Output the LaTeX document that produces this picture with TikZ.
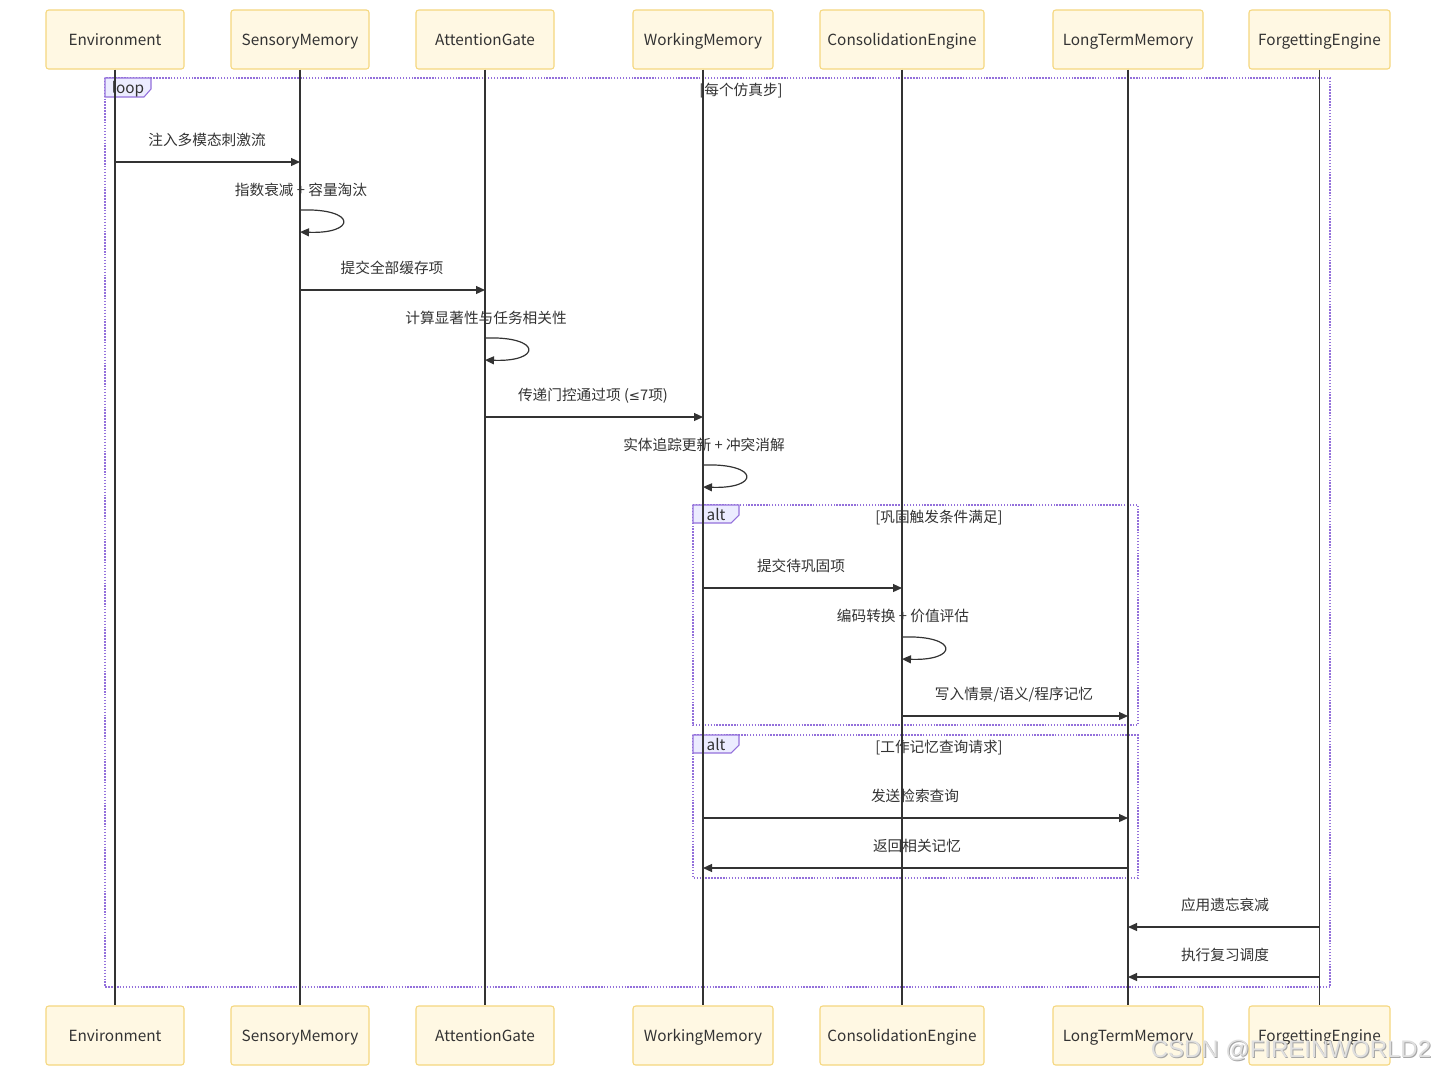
\documentclass[tikz,border=0pt]{standalone}
\usepackage{fontspec}
\setmainfont{Noto Sans CJK SC}
\newfontfamily\wmfont{Liberation Sans}
\newfontfamily\symfont{DejaVu Sans}
\usetikzlibrary{arrows.meta}
\definecolor{boxfill}{HTML}{FFF8E3}
\definecolor{boxline}{HTML}{F5D77E}
\definecolor{frameline}{HTML}{9370DB}
\definecolor{tabfill}{HTML}{ECECFF}
\definecolor{ink}{HTML}{333333}
\begin{document}
\begin{tikzpicture}[x=0.75pt,y=-0.75pt,
  actor/.style={draw=boxline, fill=boxfill, rounded corners=2pt, line width=0.8pt,
    minimum height=44.25pt, inner sep=0pt, text height=10.8pt, text depth=2.4pt,
    text=ink, font=\fontsize{11.5}{13}\selectfont},
  lifeline/.style={draw=ink, line width=1.1pt},
  msg/.style={draw=ink, line width=0.9pt, -{Triangle[length=6.75pt,width=6pt]}},
  lbl/.style={text=ink, inner sep=0pt, text height=11.4pt, text depth=2.2pt,
    font=\fontsize{11}{13}\selectfont},
  frame/.style={draw=frameline, line width=1pt, dash pattern=on 1.1pt off 1.1pt},
  tab/.style={draw=frameline, fill=tabfill, line width=0.8pt},
  tablbl/.style={text=ink, inner sep=0pt, text height=11pt, text depth=2.4pt,
    font=\fontsize{11.5}{13}\selectfont},
  wm/.style={inner sep=0pt, font=\wmfont\fontsize{18}{20}\selectfont}
]
\useasboundingbox[fill=white] (0,0) rectangle (1436,1076);

% ---- frames (drawn first, lifelines over them)
\draw[frame] (105,78) rectangle (1330,987);
\draw[tab] (105,78) -- (151,78) -- (151,89) -- (144,97) -- (105,97) -- cycle;
\node[tablbl] (looplbl) at (128,88) {loop};
\node[lbl] (loopcond) at (741,89) {[每个仿真步]};

\draw[frame] (693,505) rectangle (1138,725);
\draw[tab] (693,505) -- (739,505) -- (739,515) -- (731,523) -- (693,523) -- cycle;
\node[tablbl] (alt1lbl) at (716,515) {alt};
\node[lbl] (alt1cond) at (939,516) {[巩固触发条件满足]};

\draw[frame] (693,735) rectangle (1138,878);
\draw[tab] (693,735) -- (739,735) -- (739,745) -- (731,753) -- (693,753) -- cycle;
\node[tablbl] (alt2lbl) at (716,745) {alt};
\node[lbl] (alt2cond) at (939,746) {[工作记忆查询请求]};

% ---- participants
\node[actor, minimum width=103.5pt] (envT) at (115,39.5) {Environment};
\node[actor, minimum width=103.5pt] (smT) at (300,39.5) {SensoryMemory};
\node[actor, minimum width=103.5pt] (agT) at (485,39.5) {AttentionGate};
\node[actor, minimum width=105pt] (wmT) at (703,39.5) {WorkingMemory};
\node[actor, minimum width=123pt] (ceT) at (902,39.5) {ConsolidationEngine};
\node[actor, minimum width=112.5pt] (ltT) at (1128,39.5) {LongTermMemory};
\node[actor, minimum width=105.75pt] (feT) at (1319.5,39.5) {ForgettingEngine};

\node[actor, minimum width=103.5pt] (envB) at (115,1035.5) {Environment};
\node[actor, minimum width=103.5pt] (smB) at (300,1035.5) {SensoryMemory};
\node[actor, minimum width=103.5pt] (agB) at (485,1035.5) {AttentionGate};
\node[actor, minimum width=105pt] (wmB) at (703,1035.5) {WorkingMemory};
\node[actor, minimum width=123pt] (ceB) at (902,1035.5) {ConsolidationEngine};
\node[actor, minimum width=112.5pt] (ltB) at (1128,1035.5) {LongTermMemory};
\node[actor, minimum width=105.75pt] (feB) at (1319.5,1035.5) {ForgettingEngine};

% ---- lifelines
\foreach \p in {env,sm,ag,wm,ce,lt,fe}
  \draw[lifeline] (\p T.south) -- (\p B.north);

% ---- message rows
\coordinate (r1) at (0,162);
\coordinate (r2a) at (0,210); \coordinate (r2b) at (0,232);
\coordinate (r3) at (0,290);
\coordinate (r4a) at (0,338); \coordinate (r4b) at (0,360);
\coordinate (r5) at (0,417);
\coordinate (r6a) at (0,465); \coordinate (r6b) at (0,487);
\coordinate (r8) at (0,588);
\coordinate (r9a) at (0,637); \coordinate (r9b) at (0,659);
\coordinate (r10) at (0,716);
\coordinate (r12) at (0,818);
\coordinate (r13) at (0,868);
\coordinate (r14) at (0,927);
\coordinate (r15) at (0,977);

% 1
\draw[msg] (envT |- r1) -- (smT |- r1);
\node[lbl] (t1) at (207,139) {注入多模态刺激流};
% 2
\draw[msg] (smT |- r2a) .. controls +(57,-2) and +(57,2) .. (smT |- r2b);
\node[lbl] (t2) at (301,189) {指数衰减\ + 容量淘汰};
% 3
\draw[msg] (smT |- r3) -- (agT |- r3);
\node[lbl] (t3) at (392,267) {提交全部缓存项};
% 4
\draw[msg] (agT |- r4a) .. controls +(57,-2) and +(57,2) .. (agT |- r4b);
\node[lbl] (t4) at (486,317) {计算显著性与任务相关性};
% 5
\draw[msg] (agT |- r5) -- (wmT |- r5);
\node[lbl] (t5) at (593,394) {传递门控通过项 ({\symfont\fontsize{10}{12}\selectfont ≤}7项)};
% 6
\draw[msg] (wmT |- r6a) .. controls +(57,-2) and +(57,2) .. (wmT |- r6b);
\node[lbl] (t6) at (704,444) {实体追踪更新\ + 冲突消解};
% 8
\draw[msg] (wmT |- r8) -- (ceT |- r8);
\node[lbl] (t8) at (801,565) {提交待巩固项};
% 9
\draw[msg] (ceT |- r9a) .. controls +(57,-2) and +(57,2) .. (ceT |- r9b);
\node[lbl] (t9) at (903,615) {编码转换\ + 价值评估};
% 10
\draw[msg] (ceT |- r10) -- (ltT |- r10);
\node[lbl] (t10) at (1014,693) {写入情景/语义/程序记忆};
% 12
\draw[msg] (wmT |- r12) -- (ltT |- r12);
\node[lbl] (t12) at (915,795) {发送检索查询};
% 13
\draw[msg] (ltT |- r13) -- (wmT |- r13);
\node[lbl] (t13) at (917,845) {返回相关记忆};
% 14
\draw[msg] (feT |- r14) -- (ltT |- r14);
\node[lbl] (t14) at (1225,904) {应用遗忘衰减};
% 15
\draw[msg] (feT |- r15) -- (ltT |- r15);
\node[lbl] (t15) at (1225,954) {执行复习调度};

% ---- watermark
\node[wm, text=gray!70] (wmshadow) at (1292,1051) {CSDN @FIREINWORLD2};
\node[wm, text=gray!25] (watermark) at (1291,1050) {CSDN @FIREINWORLD2};
\end{tikzpicture}
\end{document}
